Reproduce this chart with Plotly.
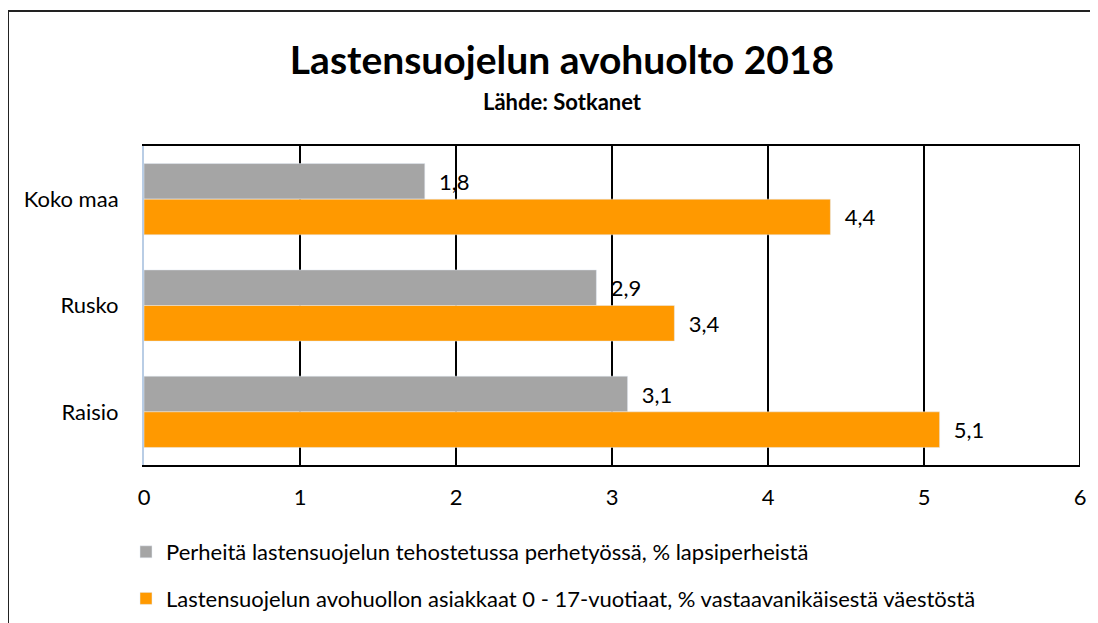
import plotly.graph_objects as go

categories = ["Koko maa", "Rusko", "Raisio"]
series1_name = "Perheitä lastensuojelun tehostetussa perhetyössä, % lapsiperheistä"
series1_values = [1.8, 2.9, 3.1]
series2_name = "Lastensuojelun avohuollon asiakkaat 0 - 17-vuotiaat, % vastaavanikäisestä väestöstä"
series2_values = [4.4, 3.4, 5.1]
x_ticks = [0, 1, 2, 3, 4, 5, 6]

FONT = "Lato"
OFF = 8  # page body margin
W, H = 1098 - OFF, 623 - OFF
L, R, T, B = 144 - OFF, 18, 146 - OFF, 158
pw = W - L - R
ph = H - T - B

def px_x(px):
    return (px - OFF - L) / pw

def px_y(py):
    return (H - B - (py - OFF)) / ph

label_tpl = "\u00a0\u00a0%{x:.1f}"

fig = go.Figure()
fig.add_trace(go.Bar(
    y=categories, x=series1_values, orientation="h", name=series1_name,
    marker=dict(color="#A5A5A5"), legendgroup="a",
    texttemplate=label_tpl, textposition="outside",
    textfont=dict(family=FONT, size=22, color="black"), cliponaxis=False,
))
fig.add_trace(go.Bar(
    y=categories, x=series2_values, orientation="h", name=series2_name,
    marker=dict(color="#FF9900"), legendgroup="b",
    texttemplate=label_tpl, textposition="outside",
    textfont=dict(family=FONT, size=22, color="black"), cliponaxis=False,
))

fig.update_layout(
    width=W, height=H,
    margin=dict(l=L, r=R, t=T, b=B, autoexpand=False),
    paper_bgcolor="white", plot_bgcolor="white",
    separators=",.",
    barmode="group", bargap=0.33, bargroupgap=0,
    font=dict(family=FONT, size=22, color="black"),
    title=dict(text="<b>Lastensuojelun avohuolto 2018</b>",
               font=dict(family=FONT, size=39, color="black"),
               xref="paper", x=px_x(562), xanchor="center",
               yref="container", y=1 - (60 - OFF) / H, yanchor="middle"),
    xaxis=dict(range=[0, 6], tickvals=x_ticks, showgrid=True, gridcolor="black",
               gridwidth=1.5, zeroline=False, showline=True, mirror=True,
               linecolor="black", linewidth=2, ticks="", ticklabelstandoff=12,
               tickfont=dict(family=FONT, size=22)),
    yaxis=dict(autorange="reversed", showgrid=False, zeroline=False, showline=True,
               linecolor="#B9CDE5", linewidth=2, ticks="", ticklabelstandoff=19,
               tickfont=dict(family=FONT, size=22)),
    legend=dict(orientation="v", x=px_x(126), xanchor="left",
                y=px_y(531), yanchor="top", tracegroupgap=15,
                font=dict(family=FONT, size=22), bgcolor="rgba(0,0,0,0)"),
    showlegend=True,
)

fig.add_annotation(text="<b>Lähde: Sotkanet</b>", xref="paper", yref="paper",
                   x=px_x(562), y=px_y(101), showarrow=False,
                   font=dict(family=FONT, size=22, color="black"),
                   xanchor="center", yanchor="middle")

# right border of plot area
fig.add_shape(type="line", xref="x", yref="paper", x0=6, x1=6, y0=0, y1=1,
              line=dict(color="black", width=2))
# chart outer frame (left and top edges; right/bottom lie outside the picture)
fig.add_shape(type="line", xref="paper", yref="paper",
              x0=px_x(8), x1=px_x(8), y0=px_y(11), y1=px_y(640),
              line=dict(color="#222222", width=2), layer="above")
fig.add_shape(type="line", xref="paper", yref="paper",
              x0=px_x(8), x1=px_x(1110), y0=px_y(11), y1=px_y(11),
              line=dict(color="#222222", width=2), layer="above")

fig.write_html("out.html", config={"displayModeBar": False})
